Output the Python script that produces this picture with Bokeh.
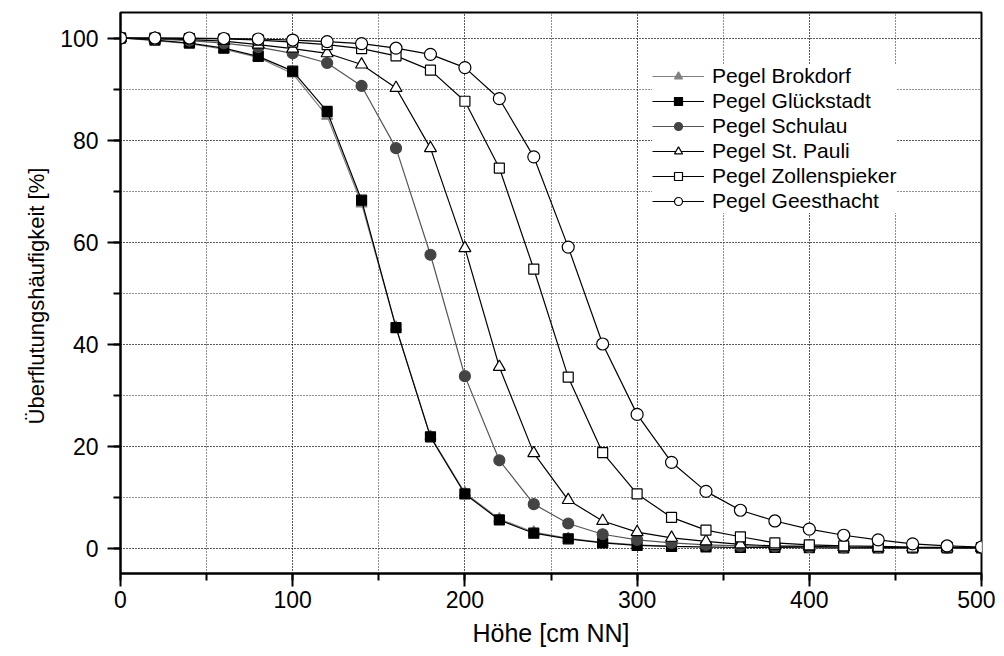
from bokeh.plotting import figure
from bokeh.models import (Range1d, SingleIntervalTicker, Legend, LegendItem)
from bokeh.embed import file_html
from bokeh.resources import INLINE

hoehe = [0, 20, 40, 60, 80, 100, 120, 140, 160, 180, 200, 220, 240, 260,
         280, 300, 320, 340, 360, 380, 400, 420, 440, 460, 480, 500]

brokdorf = [100, 99.5, 98.9, 97.8, 96.2, 93.0, 84.7, 67.5, 43.3, 21.9, 10.8, 5.7, 3.1,
            1.9, 1.1, 0.6, 0.3, 0.2, 0.1, 0.1, 0.05, 0.03, 0.02, 0.01, 0.01, 0.0]
glueckstadt = [100, 99.6, 99.0, 98.0, 96.4, 93.5, 85.6, 68.2, 43.2, 21.8, 10.6, 5.5, 2.9,
               1.8, 1.0, 0.5, 0.3, 0.2, 0.1, 0.1, 0.05, 0.03, 0.02, 0.01, 0.01, 0.0]
schulau = [100, 99.8, 99.5, 99.0, 98.2, 97.0, 95.1, 90.6, 78.4, 57.5, 33.7, 17.2, 8.6,
           4.8, 2.7, 1.6, 1.0, 0.6, 0.4, 0.3, 0.2, 0.1, 0.1, 0.05, 0.03, 0.02]
st_pauli = [100, 99.9, 99.7, 99.4, 98.7, 97.9, 97.0, 94.8, 90.2, 78.4, 58.8, 35.5, 18.6,
            9.4, 5.3, 3.1, 2.0, 1.3, 0.7, 0.4, 0.3, 0.2, 0.1, 0.1, 0.05, 0.03]
zollenspieker = [100, 100, 99.9, 99.8, 99.6, 99.2, 98.7, 97.9, 96.5, 93.7, 87.6, 74.5, 54.7,
                 33.5, 18.7, 10.6, 6.0, 3.5, 2.2, 1.0, 0.6, 0.4, 0.3, 0.2, 0.15, 0.1]
geesthacht = [100, 100, 100, 99.9, 99.8, 99.6, 99.3, 98.9, 98.0, 96.8, 94.2, 88.1, 76.7,
              59.0, 40.0, 26.2, 16.8, 11.1, 7.4, 5.3, 3.7, 2.5, 1.6, 0.8, 0.4, 0.2]

FONT = "Liberation Sans"

p = figure(output_backend="svg", toolbar_location=None,
           frame_width=861, frame_height=561,
           min_border_left=120, min_border_right=14, min_border_top=12, min_border_bottom=78,
           x_range=Range1d(0, 500), y_range=Range1d(-5, 105))

p.outline_line_color = "black"
p.outline_line_width = 2
p.background_fill_color = "white"
p.border_fill_color = "white"

# axes
p.xaxis.ticker = SingleIntervalTicker(interval=100, num_minor_ticks=2)
p.yaxis.ticker = SingleIntervalTicker(interval=20, num_minor_ticks=2)
for ax in (p.xaxis[0], p.yaxis[0]):
    ax.axis_line_width = 2
    ax.axis_line_color = "black"
    ax.major_tick_line_width = 2
    ax.minor_tick_line_width = 2
    ax.major_tick_in = 0
    ax.minor_tick_in = 0
    ax.major_tick_out = 13
    ax.minor_tick_out = 7
    ax.major_label_text_font = FONT
    ax.major_label_text_font_size = "23px"
    ax.major_label_text_color = "black"
    ax.axis_label_text_font = FONT
    ax.axis_label_text_font_style = "normal"
    ax.axis_label_text_color = "black"
p.xaxis.axis_label_text_font_size = "25px"
p.yaxis.axis_label_text_font_size = "22px"
p.xaxis.major_label_standoff = 4
p.yaxis.major_label_standoff = 9
p.xaxis.axis_label = "Höhe [cm NN]"
p.yaxis.axis_label = "Überflutungshäufigkeit  [%]"
p.xaxis.axis_label_standoff = 8
p.yaxis.axis_label_standoff = 8

# grid
for g in (p.xgrid[0], p.ygrid[0]):
    g.grid_line_color = "#222222"
    g.grid_line_dash = "1 2"
    g.grid_line_width = 1
    g.minor_grid_line_color = "#222222"
    g.minor_grid_line_dash = "1 2"
    g.minor_grid_line_width = 1

series = [
    ("Pegel Brokdorf", brokdorf, "triangle", "#808080", "#808080", "#808080", 11),
    ("Pegel Glückstadt", glueckstadt, "square", "black", "black", "black", 10),
    ("Pegel Schulau", schulau, "circle", "#555555", "#444444", "#444444", 11),
    ("Pegel St. Pauli", st_pauli, "triangle", "black", "black", "white", 12),
    ("Pegel Zollenspieker", zollenspieker, "square", "black", "black", "white", 10),
    ("Pegel Geesthacht", geesthacht, "circle", "black", "black", "white", 12),
]

items = []
for label, ys, marker, lcol, mline, mfill, size in series:
    ln = p.line(hoehe, ys, line_color=lcol, line_width=1.2)
    sc = p.scatter(hoehe, ys, marker=marker, size=size, line_color=mline,
                   fill_color=mfill, line_width=1.2)
    items.append(LegendItem(label=label, renderers=[ln, sc]))

legend = Legend(items=items, location=(532, 360))
legend.label_text_font = FONT
legend.label_text_font_size = "21px"
legend.label_text_color = "black"
legend.glyph_width = 52
legend.glyph_height = 20
legend.label_height = 20
legend.spacing = 1
legend.padding = 6
legend.margin = 0
legend.border_line_color = None
legend.background_fill_color = "white"
legend.background_fill_alpha = 1.0
legend.label_standoff = 8
p.add_layout(legend)

open("out.html", "w").write(file_html(p, INLINE))
